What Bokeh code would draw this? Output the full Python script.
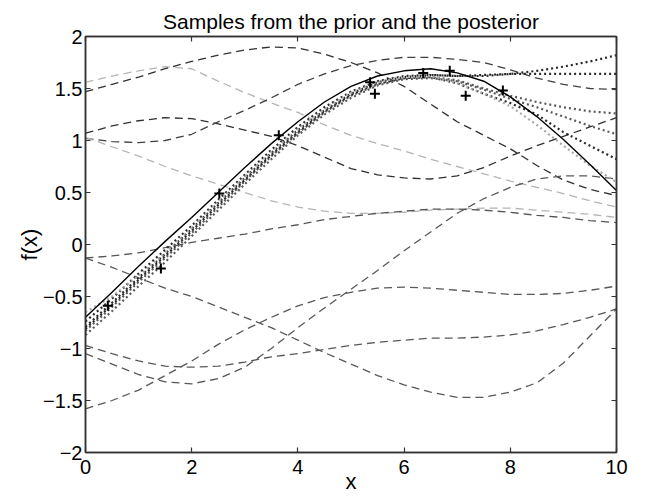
from bokeh.plotting import figure
from bokeh.models import Range1d, LinearAxis, FixedTicker
from bokeh.embed import file_html
from bokeh.resources import INLINE

x_grid = [0.0, 0.5, 1.0, 1.5, 2.0, 2.5, 3.0, 3.5, 4.0, 4.5, 5.0,
          5.5, 6.0, 6.5, 7.0, 7.5, 8.0, 8.5, 9.0, 9.5, 10.0]

# prior samples (dashed)
prior_a = [1.56, 1.62, 1.67, 1.71, 1.69, 1.57, 1.46, 1.36, 1.27, 1.15, 1.05,
           0.97, 0.90, 0.82, 0.75, 0.68, 0.61, 0.55, 0.49, 0.42, 0.36]
prior_b = [1.47, 1.54, 1.61, 1.69, 1.76, 1.82, 1.87, 1.90, 1.89, 1.83, 1.75,
           1.65, 1.52, 1.35, 1.18, 1.05, 0.92, 0.76, 0.62, 0.53, 0.47]
prior_c = [1.07, 1.14, 1.19, 1.22, 1.21, 1.16, 1.10, 1.04, 0.95, 0.84, 0.73,
           0.67, 0.64, 0.63, 0.66, 0.74, 0.85, 0.95, 1.04, 1.13, 1.22]
prior_d = [1.02, 0.99, 0.98, 1.00, 1.06, 1.18, 1.29, 1.41, 1.54, 1.64, 1.72,
           1.77, 1.80, 1.80, 1.78, 1.75, 1.68, 1.60, 1.54, 1.50, 1.49]
prior_e = [1.03, 0.94, 0.85, 0.75, 0.66, 0.58, 0.50, 0.42, 0.36, 0.32, 0.30,
           0.30, 0.31, 0.33, 0.34, 0.35, 0.35, 0.33, 0.31, 0.29, 0.26]
prior_f = [-0.13, -0.11, -0.08, -0.03, 0.02, 0.06, 0.10, 0.15, 0.19, 0.24, 0.27,
           0.30, 0.32, 0.34, 0.34, 0.33, 0.31, 0.28, 0.26, 0.23, 0.21]
prior_g = [-1.58, -1.50, -1.40, -1.26, -1.12, -0.96, -0.82, -0.70, -0.59, -0.51, -0.46,
           -0.42, -0.41, -0.42, -0.44, -0.46, -0.48, -0.48, -0.47, -0.44, -0.40]
prior_i = [-0.13, -0.22, -0.32, -0.42, -0.50, -0.60, -0.70, -0.80, -0.92, -1.04, -1.15,
           -1.26, -1.35, -1.42, -1.47, -1.47, -1.42, -1.33, -1.14, -0.88, -0.62]
prior_j = [-0.97, -1.05, -1.12, -1.17, -1.18, -1.17, -1.13, -1.08, -1.05, -1.01, -0.97,
           -0.94, -0.92, -0.90, -0.90, -0.89, -0.87, -0.83, -0.77, -0.70, -0.62]
prior_k = [-1.05, -1.15, -1.25, -1.32, -1.34, -1.29, -1.18, -1.00, -0.80, -0.61, -0.43,
           -0.25, -0.06, 0.12, 0.30, 0.44, 0.55, 0.63, 0.66, 0.66, 0.63]

prior_series = [prior_a, prior_b, prior_c, prior_d, prior_e,
                prior_f, prior_g, prior_i, prior_j, prior_k]
prior_colors = ["#b4b4b4", "#303030", "#303030", "#404040", "#b4b4b4",
                "#555555", "#585858", "#585858", "#585858", "#585858"]

# posterior mean (solid)
post_mean = [-0.70, -0.46, -0.21, 0.03, 0.26, 0.50, 0.74, 0.97, 1.18, 1.37, 1.52,
             1.62, 1.67, 1.69, 1.65, 1.57, 1.42, 1.23, 1.01, 0.77, 0.52]

# posterior samples (dotted)
post_s1 = [-0.74, -0.52, -0.28, -0.05, 0.18, 0.43, 0.67, 0.91, 1.13, 1.32, 1.47,
           1.57, 1.62, 1.63, 1.62, 1.62, 1.64, 1.67, 1.71, 1.76, 1.82]
post_s2 = [-0.79, -0.56, -0.32, -0.09, 0.15, 0.40, 0.64, 0.88, 1.10, 1.29, 1.45,
           1.56, 1.61, 1.63, 1.62, 1.63, 1.64, 1.64, 1.64, 1.64, 1.64]
post_s3 = [-0.83, -0.60, -0.36, -0.13, 0.11, 0.36, 0.61, 0.85, 1.07, 1.27, 1.43,
           1.54, 1.60, 1.61, 1.58, 1.50, 1.43, 1.37, 1.32, 1.28, 1.26]
post_s4 = [-0.87, -0.64, -0.40, -0.17, 0.08, 0.33, 0.58, 0.82, 1.05, 1.25, 1.41,
           1.53, 1.59, 1.60, 1.57, 1.49, 1.40, 1.32, 1.23, 1.14, 1.06]
post_s5 = [-0.81, -0.58, -0.34, -0.11, 0.13, 0.38, 0.62, 0.86, 1.08, 1.28, 1.44,
           1.55, 1.60, 1.61, 1.55, 1.45, 1.36, 1.25, 1.08, 0.95, 0.82]
post_s6 = [-0.65, -0.50, -0.30, -0.08, 0.16, 0.41, 0.65, 0.89, 1.11, 1.30, 1.46,
           1.56, 1.61, 1.62, 1.55, 1.45, 1.33, 1.15, 0.95, 0.76, 0.60]

post_series = [post_s1, post_s2, post_s3, post_s4, post_s5, post_s6]
post_colors = ["#2a2a2a", "#2a2a2a", "#5a5a5a", "#5a5a5a", "#2a2a2a", "#a8a8a8"]

# observations (+)
obs_x = [0.42, 1.42, 2.52, 3.64, 5.36, 5.45, 6.36, 6.86, 7.16, 7.86]
obs_y = [-0.59, -0.23, 0.49, 1.05, 1.56, 1.45, 1.65, 1.67, 1.43, 1.48]

x_ticks = [0, 2, 4, 6, 8, 10]
x_tick_labels = ["0", "2", "4", "6", "8", "10"]
y_ticks = [-2, -1.5, -1, -0.5, 0, 0.5, 1, 1.5, 2]
y_tick_labels = ["\u22122", "\u22121.5", "\u22121", "\u22120.5", "0", "0.5", "1", "1.5", "2"]

FONT = "Liberation Sans"

p = figure(width=640, height=498, x_range=Range1d(0, 10), y_range=Range1d(-2, 2),
           output_backend="svg", toolbar_location=None,
           title="Samples from the prior and the posterior",
           min_border_left=85, min_border_right=24, min_border_top=36,
           min_border_bottom=46)
p.xgrid.visible = False
p.ygrid.visible = False
p.outline_line_color = "#333333"
p.outline_line_width = 1.5
p.background_fill_color = "white"
p.border_fill_color = "white"

p.title.text_font = FONT
p.title.text_font_size = "21px"
p.title.text_font_style = "normal"
p.title.align = "center"
p.title.text_color = "black"
p.title.standoff = 7

for ys, c in zip(prior_series, prior_colors):
    p.line(x_grid, ys, line_color=c, line_width=1.3, line_dash="8 5")

for ys, c in zip(post_series, post_colors):
    p.line(x_grid, ys, line_color=c, line_width=2.2, line_dash="2 3")

p.line(x_grid, post_mean, line_color="black", line_width=1.4)
p.scatter(obs_x, obs_y, marker="cross", size=10, line_color="black", line_width=2)

def style_axis(ax, ticks, labels, show_labels=True):
    ax.ticker = FixedTicker(ticks=ticks)
    if show_labels:
        ax.major_label_overrides = {t: l for t, l in zip(ticks, labels)}
    else:
        ax.major_label_overrides = {t: "" for t in ticks}
    ax.major_tick_in = 5
    ax.major_tick_out = 0
    ax.minor_tick_in = 0
    ax.minor_tick_out = 0
    ax.axis_line_color = "#333333"
    ax.axis_line_width = 1.5
    ax.major_tick_line_color = "#333333"
    ax.major_tick_line_width = 1.2
    ax.major_label_text_font = FONT
    ax.major_label_text_font_size = "20px"
    ax.major_label_text_color = "black"
    ax.axis_label_text_font = FONT
    ax.axis_label_text_font_size = "22px"
    ax.axis_label_text_font_style = "normal"
    ax.axis_label_text_color = "black"

style_axis(p.xaxis[0], x_ticks, x_tick_labels)
style_axis(p.yaxis[0], y_ticks, y_tick_labels)
p.xaxis[0].axis_label = "x"
p.yaxis[0].axis_label = "f(x)"
p.xaxis[0].major_label_standoff = 7
p.xaxis[0].axis_label_standoff = -8
p.yaxis[0].major_label_standoff = 3
p.yaxis[0].axis_label_standoff = -2

top_ax = LinearAxis()
right_ax = LinearAxis()
style_axis(top_ax, x_ticks, x_tick_labels, show_labels=False)
style_axis(right_ax, y_ticks, y_tick_labels, show_labels=False)
top_ax.major_label_standoff = 0
right_ax.major_label_standoff = 0
p.add_layout(top_ax, "above")
p.add_layout(right_ax, "right")

open("out.html", "w").write(file_html(p, INLINE))
